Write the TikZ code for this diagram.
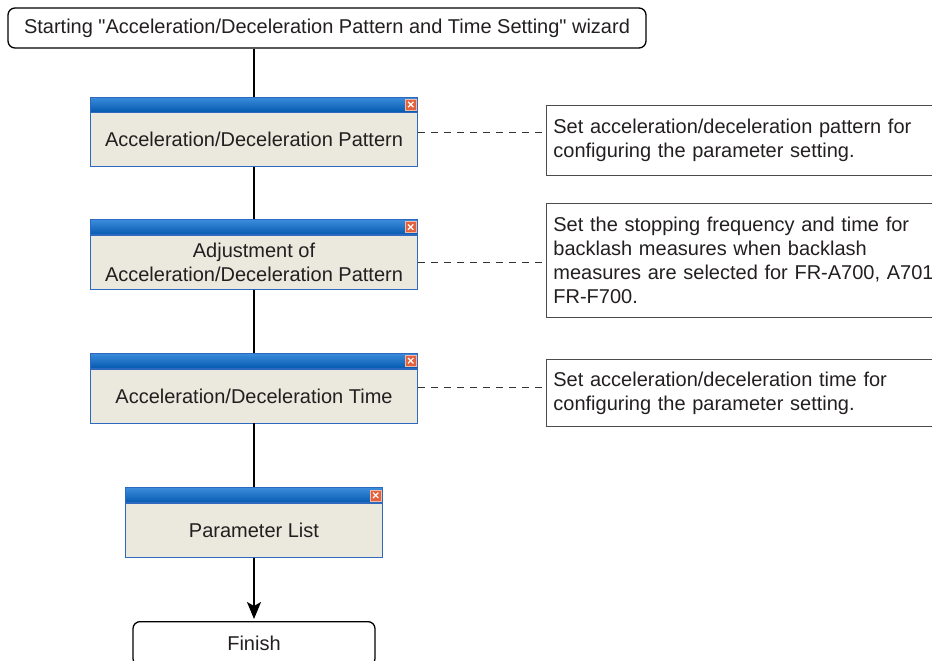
\documentclass[tikz,border=0pt]{standalone}
\usepackage{fontspec}
\setmainfont{Liberation Sans}
\usetikzlibrary{arrows.meta, positioning}

\definecolor{winface}{RGB}{235,232,221}
\definecolor{winedge}{RGB}{45,105,190}
\definecolor{titletop}{RGB}{60,140,220}
\definecolor{titlebot}{RGB}{5,90,175}
\definecolor{btnred}{RGB}{226,98,62}
\definecolor{inkgray}{RGB}{35,31,32}

\begin{document}
\begin{tikzpicture}[
    x=1pt, y=-1pt,
    every node/.style={font=\fontsize{20}{24}\selectfont, text=inkgray},
    terminal/.style={
        rectangle, draw=black, line width=1.3pt, rounded corners=7pt,
        minimum height=40pt, align=center
    },
    wintitle/.style={
        rectangle, draw=winedge, line width=0.8pt,
        top color=titletop, bottom color=titlebot,
        minimum width=#1, minimum height=15pt, inner sep=0pt
    },
    wintitle/.default=327pt,
    winbody/.style={
        rectangle, draw=winedge, line width=0.8pt, fill=winface,
        minimum width=#1, minimum height=54pt, align=center, inner sep=4pt
    },
    winbody/.default=327pt,
    closebtn/.style={
        rectangle, fill=btnred, draw=white!55!btnred, line width=0.5pt,
        minimum size=11pt, inner sep=0pt,
        path picture={
            \draw[white, line width=1.2pt]
                ([shift={(2.8pt,2.8pt)}]path picture bounding box.south west) --
                ([shift={(-2.8pt,-2.8pt)}]path picture bounding box.north east)
                ([shift={(2.8pt,-2.8pt)}]path picture bounding box.north west) --
                ([shift={(-2.8pt,2.8pt)}]path picture bounding box.south east);
        }
    },
    notebox/.style={
        rectangle, draw=black!70, line width=0.8pt, anchor=north west,
        text width=420pt, align=left, inner xsep=7pt
    },
    flowline/.style={black, line width=1.2pt},
    hint/.style={black!80, line width=0.8pt, dash pattern=on 7pt off 6pt},
    arrow/.style={-{Stealth[length=17pt, width=14pt, inset=4pt]}, flowline},
]

\useasboundingbox (0,0) rectangle (932,661);
\clip (0,0) rectangle (932,661);

% Start
\node[terminal, minimum width=638pt] (start) at (327,28)
    {Starting \textquotedbl Acceleration/Deceleration Pattern and Time Setting\textquotedbl{} wizard};

% Wizard windows
\node[wintitle] (pat-t) at (254,104.5) {};
\node[winbody, below=0pt of pat-t] (pat) {Acceleration/Deceleration Pattern};
\node[wintitle, below=52pt of pat] (adj-t) {};
\node[winbody, below=0pt of adj-t] (adj) {Adjustment of\\Acceleration/Deceleration Pattern};
\node[wintitle, below=63pt of adj] (act-t) {};
\node[winbody, below=0pt of act-t] (act) {Acceleration/Deceleration Time};
\node[wintitle=257pt, below=64pt of act] (par-t) {};
\node[winbody=257pt, below=0pt of par-t] (par) {Parameter List};

% Close buttons
\node[closebtn, left=1.5pt of pat-t.east] (pat-x) {};
\node[closebtn, left=1.5pt of adj-t.east] (adj-x) {};
\node[closebtn, left=1.5pt of act-t.east] (act-x) {};
\node[closebtn, left=1.5pt of par-t.east] (par-x) {};

% Finish
\node[terminal, minimum width=242pt, minimum height=44pt, below=63pt of par] (finish) {Finish};

% Notes
\node[notebox, minimum height=70pt] (pat-note) at (546,105)
    {Set acceleration/deceleration pattern for\\configuring the parameter setting.};
\node[notebox, minimum height=114pt] (adj-note) at (546,203)
    {Set the stopping frequency and time for\\backlash measures when backlash\\measures are selected for FR-A700, A701,\\FR-F700.};
\node[notebox, minimum height=67pt] (act-note) at (546,359)
    {Set acceleration/deceleration time for\\configuring the parameter setting.};

% Vertical flow
\draw[flowline] (start.south -| pat-t.north) -- (pat-t.north);
\draw[flowline] (pat) -- (adj-t);
\draw[flowline] (adj) -- (act-t);
\draw[flowline] (act) -- (par-t);
\draw[arrow, shorten >=2pt] (par) -- (finish);

% Dashed leaders to notes
\draw[hint] ([yshift=7pt]pat.east) -- ([yshift=7pt]pat.east -| pat-note.west);
\draw[hint] (adj.east) -- (adj.east -| adj-note.west);
\draw[hint] ([yshift=9pt]act.east) -- ([yshift=9pt]act.east -| act-note.west);

\end{tikzpicture}
\end{document}
